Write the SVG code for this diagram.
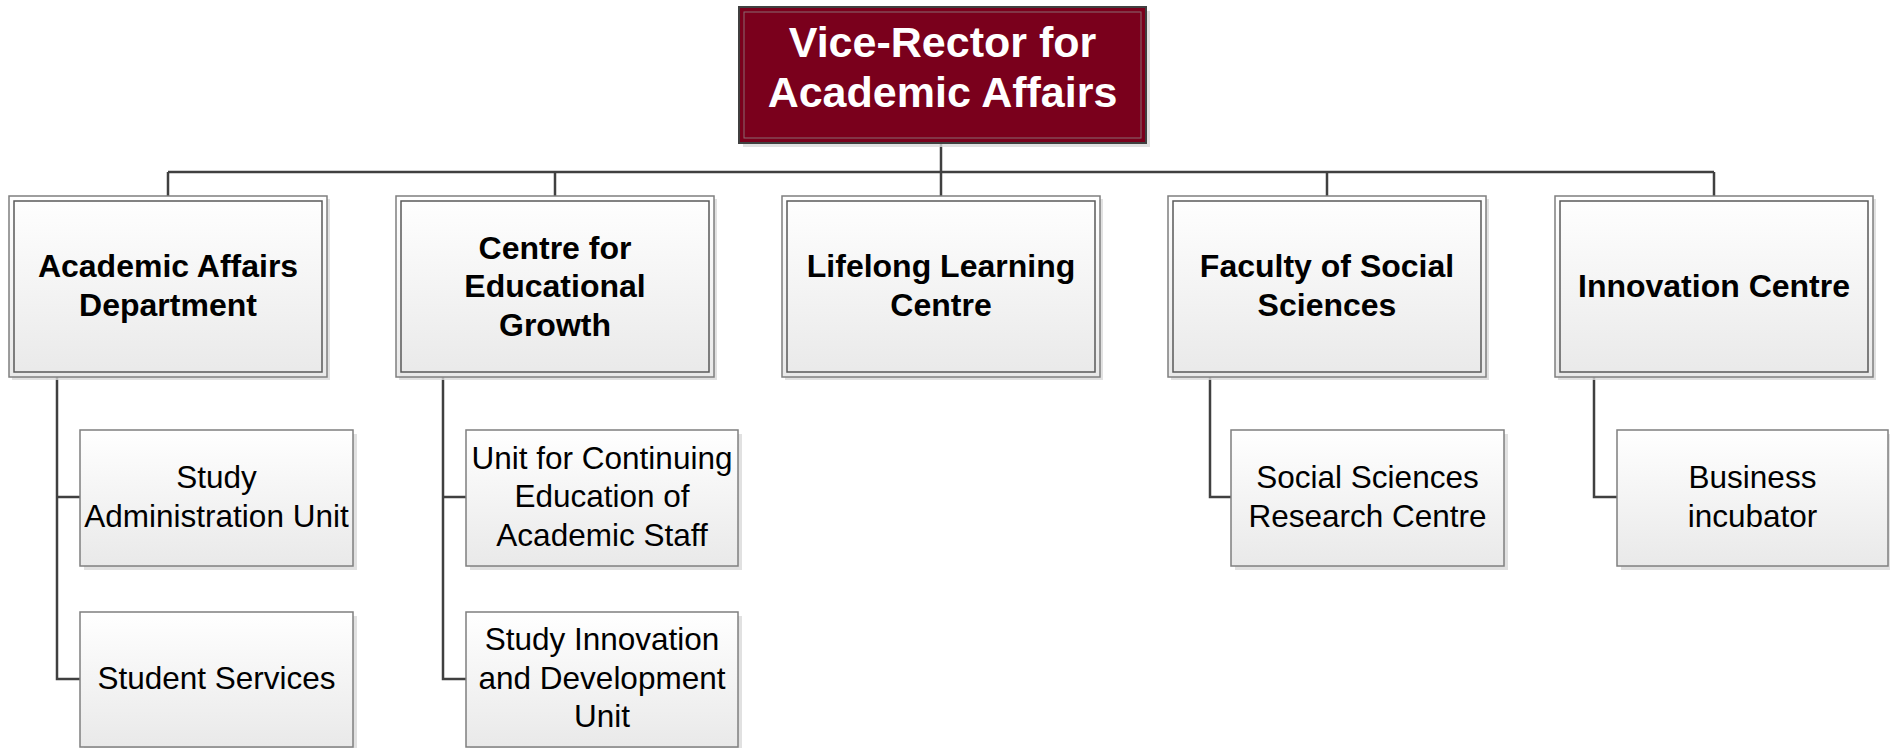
<svg xmlns="http://www.w3.org/2000/svg" width="1890" height="748" viewBox="0 0 1890 748">
<defs>
<linearGradient id="g" x1="0" y1="0" x2="0" y2="1">
<stop offset="0" stop-color="#ffffff"/>
<stop offset="1" stop-color="#e9e9e9"/>
</linearGradient>
<style>
.sh{fill:#d9d9d9;opacity:0.8}
.o{fill:url(#g);stroke:#7f7f7f;stroke-width:1.5}
.i{fill:none;stroke:#595959;stroke-width:1.5}
.b{fill:url(#g);stroke:#7f7f7f;stroke-width:1.5}
.tb{font-family:"Liberation Sans",Arial,sans-serif;font-weight:bold;font-size:32px;fill:#000;text-anchor:middle}
.tr{font-family:"Liberation Sans",Arial,sans-serif;font-size:31.5px;fill:#000;text-anchor:middle}
.tt{font-family:"Liberation Sans",Arial,sans-serif;font-weight:bold;font-size:43px;fill:#fff;text-anchor:middle}
.c{fill:none;stroke:#404040;stroke-width:2.5}
</style>
</defs>
<rect width="1890" height="748" fill="#fff"/>
<g id="connectors">
<path class="c" d="M941 143V172M168 172H1714M168 172V196M555 172V196M941 172V196M1327 172V196M1714 172V196"/>
<path class="c" d="M57 377V679H80M57 497H80"/>
<path class="c" d="M443 377V679H466M443 497H466"/>
<path class="c" d="M1210 377V497H1231"/>
<path class="c" d="M1594 377V497H1617"/>
</g>
<g id="vice-rector">
<rect class="sh" x="743" y="11" width="407" height="136"/>
<rect x="739" y="7" width="407" height="136" fill="#7a001c" stroke="#404040" stroke-width="2"/>
<rect x="744" y="12" width="397" height="126" fill="none" stroke="#8a6a70" stroke-width="1"/>
<text class="tt" x="942.5" y="57">Vice-Rector for</text>
<text class="tt" x="942.5" y="107">Academic Affairs</text>
</g>
<g id="academic-affairs-dept">
<rect class="sh" x="12" y="199" width="318" height="181"/>
<rect class="o" x="9" y="196" width="318" height="181"/>
<rect class="i" x="14" y="201" width="308" height="171"/>
<text class="tb" x="168" y="277">Academic Affairs</text>
<text class="tb" x="168" y="315.5">Department</text>
</g>
<g id="centre-educational-growth">
<rect class="sh" x="399" y="199" width="318" height="181"/>
<rect class="o" x="396" y="196" width="318" height="181"/>
<rect class="i" x="401" y="201" width="308" height="171"/>
<text class="tb" x="555" y="258.5">Centre for</text>
<text class="tb" x="555" y="297">Educational</text>
<text class="tb" x="555" y="335.5">Growth</text>
</g>
<g id="lifelong-learning">
<rect class="sh" x="785" y="199" width="318" height="181"/>
<rect class="o" x="782" y="196" width="318" height="181"/>
<rect class="i" x="787" y="201" width="308" height="171"/>
<text class="tb" x="941" y="277">Lifelong Learning</text>
<text class="tb" x="941" y="315.5">Centre</text>
</g>
<g id="faculty-social-sciences">
<rect class="sh" x="1171" y="199" width="318" height="181"/>
<rect class="o" x="1168" y="196" width="318" height="181"/>
<rect class="i" x="1173" y="201" width="308" height="171"/>
<text class="tb" x="1327" y="277">Faculty of Social</text>
<text class="tb" x="1327" y="315.5">Sciences</text>
</g>
<g id="innovation-centre">
<rect class="sh" x="1558" y="199" width="318" height="181"/>
<rect class="o" x="1555" y="196" width="318" height="181"/>
<rect class="i" x="1560" y="201" width="308" height="171"/>
<text class="tb" x="1714" y="296.5">Innovation Centre</text>
</g>
<g id="study-administration">
<rect class="sh" x="84" y="434" width="273" height="136"/>
<rect class="b" x="80" y="430" width="273" height="136"/>
<text class="tr" x="216.5" y="487.5">Study</text>
<text class="tr" x="216.5" y="526.5">Administration Unit</text>
</g>
<g id="student-services">
<rect class="sh" x="84" y="616" width="273" height="136"/>
<rect class="b" x="80" y="612" width="273" height="135"/>
<text class="tr" x="216.5" y="688.5">Student Services</text>
</g>
<g id="continuing-education">
<rect class="sh" x="470" y="434" width="272" height="136"/>
<rect class="b" x="466" y="430" width="272" height="136"/>
<text class="tr" x="602" y="468.5">Unit for Continuing</text>
<text class="tr" x="602" y="507">Education of</text>
<text class="tr" x="602" y="545.5">Academic Staff</text>
</g>
<g id="study-innovation">
<rect class="sh" x="470" y="616" width="272" height="136"/>
<rect class="b" x="466" y="612" width="272" height="135"/>
<text class="tr" x="602" y="650">Study Innovation</text>
<text class="tr" x="602" y="688.5">and Development</text>
<text class="tr" x="602" y="727">Unit</text>
</g>
<g id="social-sciences-research">
<rect class="sh" x="1235" y="434" width="273" height="136"/>
<rect class="b" x="1231" y="430" width="273" height="136"/>
<text class="tr" x="1367.5" y="487.5">Social Sciences</text>
<text class="tr" x="1367.5" y="526.5">Research Centre</text>
</g>
<g id="business-incubator">
<rect class="sh" x="1621" y="434" width="272" height="136"/>
<rect class="b" x="1617" y="430" width="271" height="136"/>
<text class="tr" x="1752.5" y="487.5">Business</text>
<text class="tr" x="1752.5" y="526.5">incubator</text>
</g>
</svg>
